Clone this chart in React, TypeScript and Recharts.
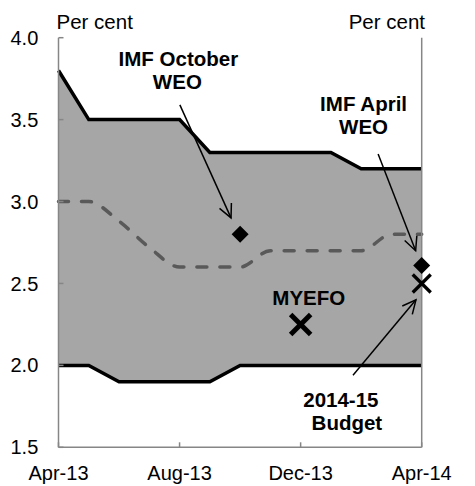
import React from "react";
import {
  Area,
  ComposedChart,
  Line,
  ReferenceDot,
  ReferenceLine,
  XAxis,
  YAxis,
} from "recharts";

const FONT = "'Liberation Sans', Arial, Helvetica, sans-serif";
const AXIS = "#868686";

// monthly, Apr-13 .. Apr-14
const months = [
  "Apr-13", "May-13", "Jun-13", "Jul-13", "Aug-13", "Sep-13", "Oct-13",
  "Nov-13", "Dec-13", "Jan-14", "Feb-14", "Mar-14", "Apr-14",
];
const upper = [3.8, 3.5, 3.5, 3.5, 3.5, 3.3, 3.3, 3.3, 3.3, 3.3, 3.2, 3.2, 3.2];
const lower = [2.0, 2.0, 1.9, 1.9, 1.9, 1.9, 2.0, 2.0, 2.0, 2.0, 2.0, 2.0, 2.0];
const median = [3.0, 3.0, 2.88, 2.72, 2.6, 2.6, 2.6, 2.7, 2.7, 2.7, 2.7, 2.8, 2.8];

// forecasts (null where there is none)
const imfOctober = [null, null, null, null, null, null, 2.8, null, null, null, null, null, null];
const imfApril = [null, null, null, null, null, null, null, null, null, null, null, null, 2.61];
const myefo = [null, null, null, null, null, null, null, null, 2.25, null, null, null, null];
const budget = [null, null, null, null, null, null, null, null, null, null, null, null, 2.5];

const xTicks = [0, 4, 8, 12];
const yTicks = [1.5, 2.0, 2.5, 3.0, 3.5, 4.0];

// text notes, anchored in data units (x = month index, y = per cent, first baseline)
const notes = [
  { lines: ["IMF October", "WEO"], x: 3.96, y: 3.83, dx: [0, -1] },
  { lines: ["IMF April", "WEO"], x: 10.08, y: 3.55, dx: [0, 0] },
  { lines: ["MYEFO"], x: 8.27, y: 2.37, dx: [0] },
  { lines: ["2014-15", "Budget"], x: 9.33, y: 1.744, dx: [0, 6] },
];

// arrows: from -> to, data units
const arrows = [
  { from: { x: 4.01, y: 3.59 }, to: { x: 5.7, y: 2.9 } },
  { from: { x: 10.56, y: 3.29 }, to: { x: 11.8, y: 2.7 } },
  { from: { x: 9.73, y: 1.94 }, to: { x: 11.81, y: 2.4 } },
];

const chartData = months.map((month, i) => ({
  i,
  month,
  band: [lower[i], upper[i]],
  upper: upper[i],
  lower: lower[i],
  median: median[i],
  imfOctober: imfOctober[i],
  imfApril: imfApril[i],
  myefo: myefo[i],
  budget: budget[i],
}));

const Diamond = (props: any) => {
  const { cx, cy, value } = props;
  if (value == null || cy == null) return <g />;
  const s = 8.5;
  return (
    <path
      d={`M${cx},${cy - s}L${cx + s},${cy}L${cx},${cy + s}L${cx - s},${cy}Z`}
      fill="#000"
    />
  );
};

const makeCross = (half: number, width: number) => (props: any) => {
  const { cx, cy, value } = props;
  if (value == null || cy == null) return <g />;
  return (
    <g stroke="#000" strokeWidth={width}>
      <line x1={cx - half} y1={cy - half} x2={cx + half} y2={cy + half} />
      <line x1={cx - half} y1={cy + half} x2={cx + half} y2={cy - half} />
    </g>
  );
};

const Arrow = (props: any) => {
  const { x1, y1, x2, y2 } = props;
  const ang = Math.atan2(y2 - y1, x2 - x1);
  const len = 15;
  const spread = 0.45;
  const a1 = ang + Math.PI - spread;
  const a2 = ang + Math.PI + spread;
  return (
    <g stroke="#000" strokeWidth={1.5} fill="none">
      <line x1={x1} y1={y1} x2={x2} y2={y2} />
      <polyline
        points={`${x2 + len * Math.cos(a1)},${y2 + len * Math.sin(a1)} ${x2},${y2} ${
          x2 + len * Math.cos(a2)
        },${y2 + len * Math.sin(a2)}`}
      />
    </g>
  );
};

const noteShape = (lines: string[], dx: number[]) => (props: any) => {
  const { cx, cy } = props;
  return (
    <text
      x={cx}
      y={cy}
      textAnchor="middle"
      fontFamily={FONT}
      fontSize={20.5}
      fontWeight="bold"
      fill="#000"
    >
      {lines.map((l, k) => (
        <tspan key={l} x={cx + dx[k]} y={cy + k * 23}>
          {l}
        </tspan>
      ))}
    </text>
  );
};

const unitLabel = (side: "left" | "right") => (props: any) => {
  const vb = props.viewBox;
  const x = side === "left" ? vb.x + vb.width - 2 : vb.x + 3.3;
  return (
    <text
      x={x}
      y={vb.y - 8.4}
      textAnchor={side === "left" ? "start" : "end"}
      fontFamily={FONT}
      fontSize={20.5}
      fill="#000"
    >
      Per cent
    </text>
  );
};

const tickStyle = { fill: "#000", fontSize: 20, fontFamily: FONT };

export default function App() {
  return (
    <div style={{ position: "absolute", left: 0, top: 0, width: 475, height: 486, background: "#fff" }}>
      <ComposedChart
        width={475}
        height={486}
        data={chartData}
        margin={{ top: 37.7, right: 0, bottom: 0, left: 0 }}
      >
        <XAxis
          type="number"
          dataKey="i"
          domain={[0, 12]}
          ticks={xTicks}
          interval={0}
          tickFormatter={(v: number) => months[v]}
          height={38.7}
          stroke={AXIS}
          strokeWidth={1.5}
          tickSize={-5}
          tickMargin={23.5}
          tick={tickStyle}
        />
        <YAxis
          yAxisId="left"
          domain={[1.5, 4]}
          ticks={yTicks}
          interval={0}
          tickFormatter={(v: number) => v.toFixed(1)}
          width={58.5}
          stroke={AXIS}
          strokeWidth={1.5}
          tickSize={-5}
          tickMargin={25.2}
          tick={tickStyle}
          label={{ content: unitLabel("left") }}
        />
        <YAxis
          yAxisId="right"
          orientation="right"
          domain={[1.5, 4]}
          ticks={yTicks}
          interval={0}
          tickFormatter={(v: number) => v.toFixed(1)}
          width={53.3}
          stroke={AXIS}
          strokeWidth={1.5}
          tickSize={-5}
          tickMargin={24.3}
          tick={tickStyle}
          label={{ content: unitLabel("right") }}
        />

        <Area
          yAxisId="left"
          dataKey="band"
          fill="#a6a6a6"
          fillOpacity={1}
          stroke="none"
          type="linear"
          activeDot={false}
          isAnimationActive={false}
        />
        <Line
          yAxisId="left"
          dataKey="upper"
          type="linear"
          stroke="#000"
          strokeWidth={3.5}
          dot={false}
          activeDot={false}
          isAnimationActive={false}
        />
        <Line
          yAxisId="left"
          dataKey="lower"
          type="linear"
          stroke="#000"
          strokeWidth={3.5}
          dot={false}
          activeDot={false}
          isAnimationActive={false}
        />
        <Line
          yAxisId="left"
          dataKey="median"
          type="monotone"
          stroke="#595959"
          strokeWidth={3.5}
          strokeDasharray="10 13"
          strokeLinecap="round"
          dot={false}
          activeDot={false}
          isAnimationActive={false}
        />
        <Line
          yAxisId="left"
          dataKey="imfOctober"
          stroke="none"
          dot={Diamond}
          activeDot={false}
          isAnimationActive={false}
        />
        <Line
          yAxisId="left"
          dataKey="imfApril"
          stroke="none"
          dot={Diamond}
          activeDot={false}
          isAnimationActive={false}
        />
        <Line
          yAxisId="left"
          dataKey="myefo"
          stroke="none"
          dot={makeCross(10, 5)}
          activeDot={false}
          isAnimationActive={false}
        />
        <Line
          yAxisId="left"
          dataKey="budget"
          stroke="none"
          dot={makeCross(9, 3.3)}
          activeDot={false}
          isAnimationActive={false}
        />

        {arrows.map((a, k) => (
          <ReferenceLine
            key={`arrow-${k}`}
            yAxisId="left"
            segment={[a.from, a.to]}
            shape={Arrow}
          />
        ))}
        {notes.map((n) => (
          <ReferenceDot
            key={n.lines[0]}
            yAxisId="left"
            x={n.x}
            y={n.y}
            r={0}
            shape={noteShape(n.lines, n.dx)}
          />
        ))}
      </ComposedChart>
    </div>
  );
}
